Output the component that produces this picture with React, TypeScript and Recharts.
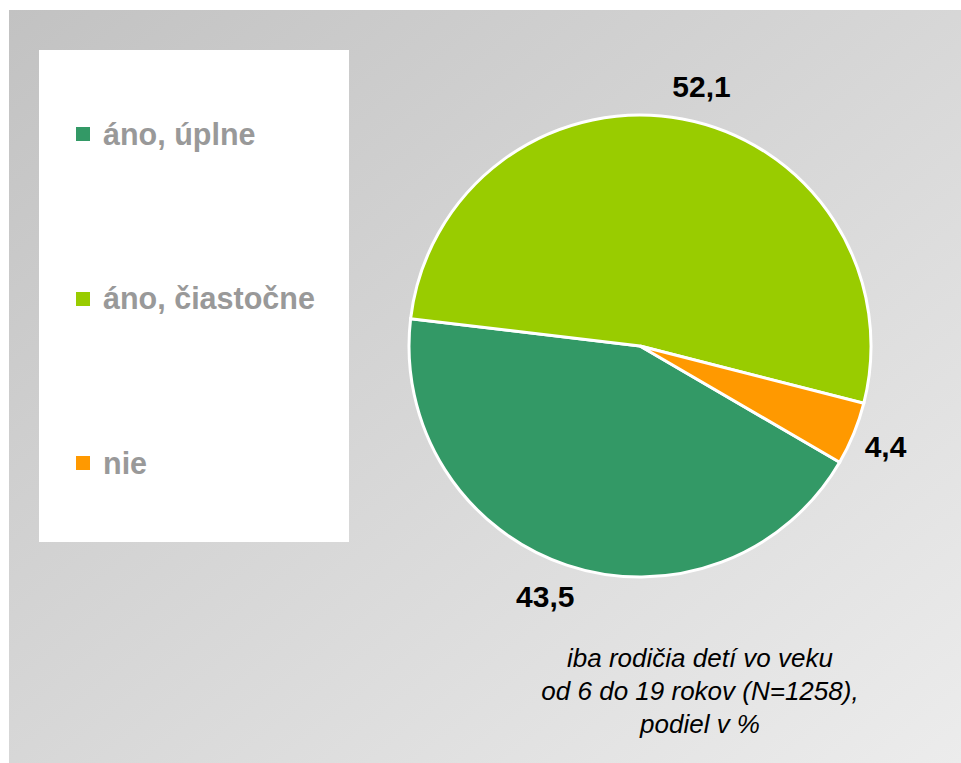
import { Pie, PieChart, Cell } from "recharts";

const categories = ["áno, úplne", "áno, čiastočne", "nie"];
const shares = [43.5, 52.1, 4.4];
const colors = ["#339966", "#99CC00", "#FF9900"];
const noteLines = [
  "iba rodičia detí vo veku",
  "od 6 do 19 rokov (N=1258),",
  "podiel v %",
];

const data = categories.map((name, i) => ({ name, value: shares[i] }));

const RADIAN = Math.PI / 180;

// outside-end labels, nudged sideways a bit like the spreadsheet does it
function renderLabel(props: any) {
  const { cx, cy, midAngle, outerRadius, value } = props;
  const r = outerRadius + 33;
  const cos = Math.cos(-midAngle * RADIAN);
  const sin = Math.sin(-midAngle * RADIAN);
  const x = cx + r * cos + Math.sign(cos) * 16 * (1 - Math.abs(cos));
  const y = cy + r * sin;
  return (
    <text
      x={x}
      y={y}
      textAnchor="middle"
      dominantBaseline="central"
      fill="#000"
      fontSize={30}
      fontWeight="bold"
      fontFamily="'Liberation Sans', Arial, sans-serif"
    >
      {value.toFixed(1).replace(".", ",")}
    </text>
  );
}

export default function App() {
  return (
    <div
      style={{
        position: "absolute",
        left: 9,
        top: 10,
        width: 952,
        height: 753,
        background: "linear-gradient(to bottom right, #c2c2c2, #ececec)",
        fontFamily: "'Liberation Sans', Arial, sans-serif",
      }}
    >
      {/* legend box */}
      <div
        style={{
          position: "absolute",
          left: 30,
          top: 40,
          width: 310,
          height: 492,
          background: "#fff",
        }}
      >
        {categories.map((c, i) => (
          <div
            key={c}
            style={{
              position: "absolute",
              left: 37,
              top: 84 + i * 164.5 - 20,
              height: 40,
              display: "flex",
              alignItems: "center",
              color: "#999999",
              fontWeight: "bold",
              fontSize: 30.5,
              whiteSpace: "nowrap",
            }}
          >
            <span
              style={{
                display: "inline-block",
                width: 14,
                height: 14,
                background: colors[i],
                marginRight: 13,
              }}
            />
            {c}
          </div>
        ))}
      </div>

      <div style={{ position: "absolute", left: 0, top: 0 }}>
        <PieChart width={952} height={753}>
          <Pie
            data={data}
            dataKey="value"
            nameKey="name"
            cx={626}
            cy={331}
            outerRadius={231}
            startAngle={-30.2}
            endAngle={-390.2}
            stroke="#fff"
            strokeWidth={3}
            label={renderLabel}
            labelLine={false}
            isAnimationActive={false}
          >
            {data.map((d, i) => (
              <Cell key={d.name} fill={colors[i]} />
            ))}
          </Pie>
        </PieChart>
      </div>

      <div
        style={{
          position: "absolute",
          left: 441,
          top: 632,
          width: 500,
          textAlign: "center",
          fontStyle: "italic",
          fontSize: 26,
          lineHeight: "33px",
          color: "#000",
        }}
      >
        {noteLines.map((l) => (
          <div key={l}>{l}</div>
        ))}
      </div>
    </div>
  );
}
